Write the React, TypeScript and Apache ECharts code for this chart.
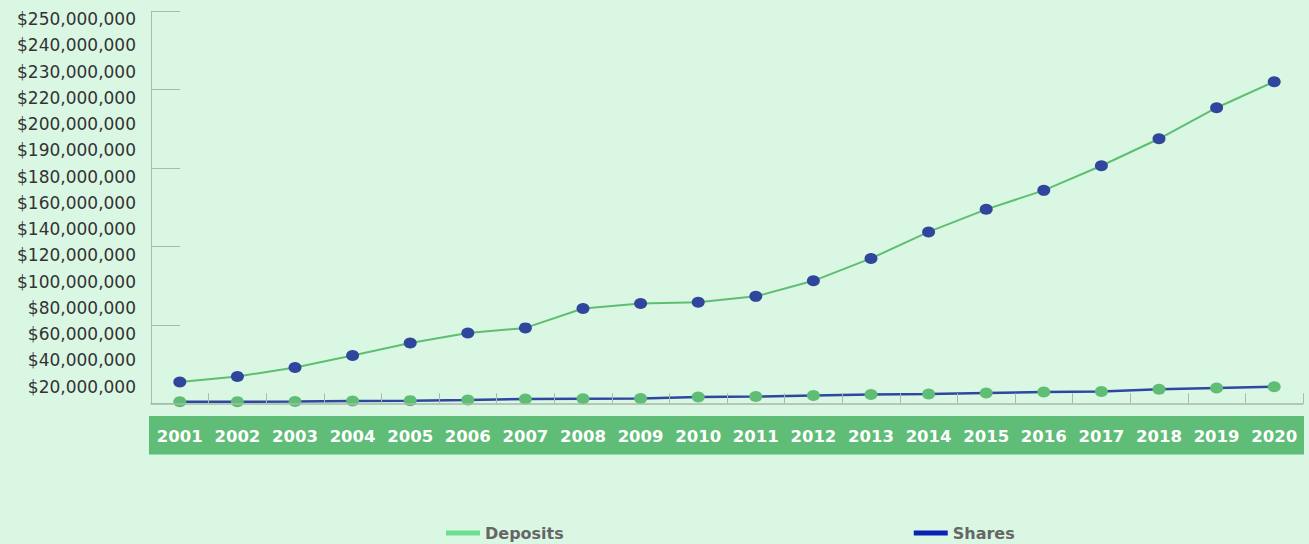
import React, { useEffect, useRef } from "react";
import * as echarts from "echarts";

const years = ["2001","2002","2003","2004","2005","2006","2007","2008","2009","2010","2011","2012","2013","2014","2015","2016","2017","2018","2019","2020"];
const deposits = [13.6e6,17.1e6,22.8e6,30.5e6,38.5e6,44.9e6,48.1e6,60.5e6,63.7e6,64.5e6,68.2e6,78.1e6,92.4e6,109.3e6,123.7e6,135.8e6,151.5e6,168.7e6,188.5e6,205.1e6];
const shares = [1.0e6,1.0e6,1.2e6,1.5e6,1.7e6,2.1e6,2.7e6,2.9e6,3.0e6,4.0e6,4.3e6,5.0e6,5.6e6,6.0e6,6.6e6,7.2e6,7.5e6,8.9e6,9.8e6,10.6e6];
const yLabels = ["$250,000,000","$240,000,000","$230,000,000","$220,000,000","$200,000,000","$190,000,000","$180,000,000","$160,000,000","$140,000,000","$120,000,000","$100,000,000","$80,000,000","$60,000,000","$40,000,000","$20,000,000"];

export default function App() {
  const ref = useRef<HTMLDivElement>(null);
  useEffect(() => {
    if (!ref.current) return;
    const chart = echarts.init(ref.current, undefined, { renderer: "svg" });
    const axisGray = "#a9b9aa";
    chart.setOption({
      animation: false,
      backgroundColor: "#daf7e3",
      textStyle: { fontFamily: "DejaVu Sans" },
      graphic: [
        { type: "rect", shape: { x: 149, y: 416, width: 1155, height: 38.5 }, style: { fill: "#5fbd77" }, z: 0 },
      ],
      grid: [
        { left: 151, right: 6, top: 11.3, bottom: 140.7 },
        { left: 150, width: 1, top: 5.9, height: 393.9 },
      ],
      xAxis: [
        {
          type: "category",
          gridIndex: 0,
          data: years,
          boundaryGap: true,
          axisLine: { show: true, lineStyle: { color: axisGray, width: 1.5 } },
          axisTick: { show: true, inside: true, length: 10, lineStyle: { color: axisGray } },
          axisLabel: { interval: 0, color: "#ffffff", fontWeight: "bold", fontSize: 16.5, margin: 25, fontFamily: "DejaVu Sans" },
          splitLine: { show: false },
          z: 5,
        },
        { type: "value", gridIndex: 1, show: false },
      ],
      yAxis: [
        {
          type: "value",
          gridIndex: 0,
          min: 0,
          max: 250e6,
          interval: 50e6,
          axisLine: { show: true, lineStyle: { color: axisGray } },
          axisTick: { show: true, inside: true, length: 29, lineStyle: { color: axisGray } },
          axisLabel: { show: false },
          splitLine: { show: false },
        },
        {
          type: "category",
          gridIndex: 1,
          data: yLabels,
          inverse: true,
          boundaryGap: true,
          axisLine: { show: false },
          axisTick: { show: false },
          axisLabel: { interval: 0, color: "#333333", fontSize: 17, margin: 14, fontFamily: "DejaVu Sans" },
          splitLine: { show: false },
        },
      ],
      legend: {
        left: 446,
        top: 525,
        padding: 0,
        icon: "rect",
        itemWidth: 34,
        itemHeight: 5,
        itemGap: 350,
        textStyle: { color: "#666666", fontWeight: "bold", fontSize: 16, fontFamily: "DejaVu Sans" },
        data: [
          { name: "Deposits", itemStyle: { color: "#6de08f" } },
          { name: "Shares", itemStyle: { color: "#0a22b5" } },
        ],
      },
      series: [
        {
          name: "Deposits",
          type: "line",
          xAxisIndex: 0,
          yAxisIndex: 0,
          data: deposits,
          symbol: "circle",
          symbolSize: [13, 11],
          lineStyle: { color: "#5dbf72", width: 2 },
          itemStyle: { color: "#2f469c" },
          z: 3,
        },
        {
          name: "Shares",
          type: "line",
          xAxisIndex: 0,
          yAxisIndex: 0,
          data: shares,
          symbol: "circle",
          symbolSize: [13, 11],
          lineStyle: { color: "#2e47a0", width: 2.5 },
          itemStyle: { color: "#5fbd75" },
          z: 3,
        },
      ],
    });
    return () => chart.dispose();
  }, []);
  return <div ref={ref} style={{ position: "absolute", left: 0, top: 0, width: 1309, height: 544 }} />;
}
